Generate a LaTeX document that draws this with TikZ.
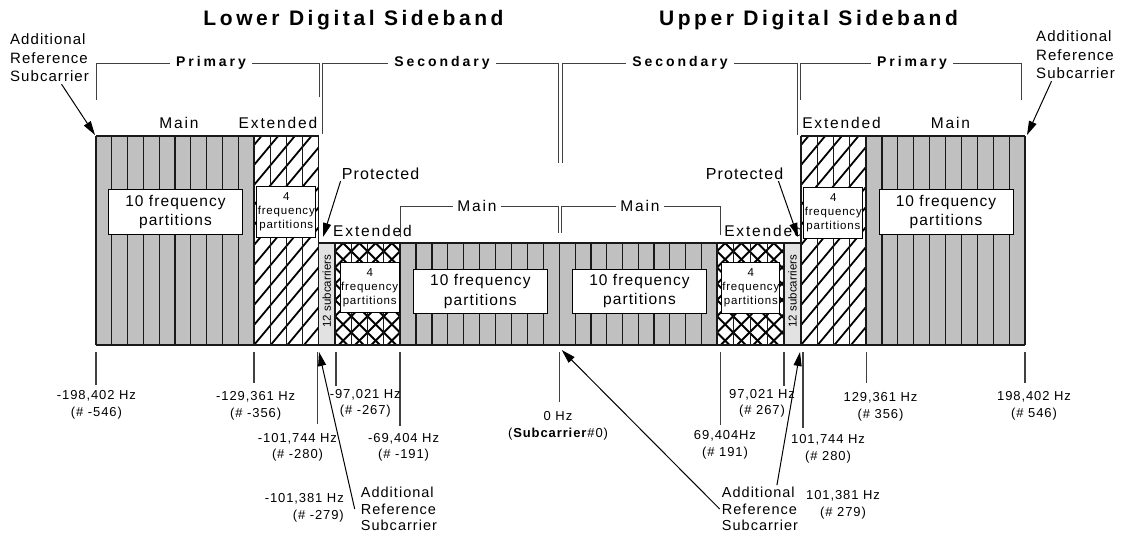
\documentclass[tikz,border=0pt]{standalone}
\usepackage{fontspec}
\setmainfont{Liberation Sans}
\newfontfamily\hdfont[LetterSpace=17]{Liberation Sans}
\newfontfamily\brfont[LetterSpace=21]{Liberation Sans}
\newfontfamily\mdfont[LetterSpace=12]{Liberation Sans}
\newfontfamily\txfont[LetterSpace=7]{Liberation Sans}
\usetikzlibrary{arrows.meta,positioning}
\definecolor{partgray}{RGB}{192,192,192}
\definecolor{protgray}{RGB}{226,226,226}
\tikzset{
  stripe/.style={line width=1.2pt,black!90},
  hatch/.style={line width=1.8pt},
  brack/.style={line width=1pt,black!75},
  tick/.style={line width=1.4pt,black!75},
  arr/.style={line width=1pt,-{Triangle[length=14pt,width=8pt]}},
  bigbox/.style={draw,fill=white,line width=1pt,minimum width=134pt,minimum height=45pt,align=center,inner sep=0pt,font=\txfont\fontsize{15.5}{19.4}\selectfont},
  smallbox/.style={draw,fill=white,line width=1pt,minimum width=59pt,minimum height=51pt,align=center,inner sep=0pt,font=\txfont\fontsize{11.5}{14}\selectfont},
  brlabel/.style={fill=white,inner xsep=6pt,inner ysep=1pt,font=\brfont\bfseries\fontsize{14}{16}\selectfont},
  partlabel/.style={inner sep=1pt,font=\mdfont\fontsize{15.5}{18}\selectfont},
  freq/.style={align=center,inner sep=1pt,font=\txfont\fontsize{13}{16.7}\selectfont},
  note/.style={align=left,inner sep=2pt,font=\txfont\fontsize{15}{18.5}\selectfont},
}
\begin{document}
\begin{tikzpicture}[x=1pt,y=-1pt]
\useasboundingbox (0,0) rectangle (1121,533);
% sidebands
\node[font=\hdfont\bfseries\fontsize{21}{25}\selectfont] (lowsb) at (353.5,20) {Lower Digital Sideband};
\node[font=\hdfont\bfseries\fontsize{21}{25}\selectfont] (uppsb) at (808.5,20) {Upper Digital Sideband};
% primary / secondary brackets
\draw[brack] (96,100) |- (319,63) -- (319,97);
\node[brlabel] (lprim) at (211,63) {Primary};
\draw[brack] (322,134) |- (558,63) -- (558,163);
\node[brlabel] (lsec) at (442,63) {Secondary};
\draw[brack] (562,163) |- (797,63) -- (797,135);
\node[brlabel] (usec) at (680,63) {Secondary};
\draw[brack] (800,100) |- (1021,63) -- (1021,100);
\node[brlabel] (uprim) at (912,63) {Primary};
\draw[brack] (400,237) |- (558,206) -- (558,233);
\node[partlabel,fill=white,inner xsep=4pt] (lsmain) at (477,206) {Main};
\draw[brack] (561,233) |- (720,206) -- (720,235);
\node[partlabel,fill=white,inner xsep=4pt] (usmain) at (640,206) {Main};
% partition labels
\node[partlabel] (lpmain) at (179,123) {Main};
\node[partlabel] (lpext) at (278,123) {Extended};
\node[partlabel] (upext) at (841.5,123) {Extended};
\node[partlabel] (upmain) at (950.5,123) {Main};
\node[partlabel] (lsext) at (372.5,231) {Extended};
\node[partlabel] (usext) at (763.5,231) {Extended};
% main partitions
\foreach \xa/\xb/\ya in {96/254/136,866/1025/136,400/559.5/243,559.5/717/243} {
  \fill[partgray] (\xa,\ya) rectangle (\xb,345);
  \foreach \i in {0,...,10}
    \draw[stripe] ({\xa+\i*(\xb-\xa)/10},\ya) -- ({\xa+\i*(\xb-\xa)/10},345);
  \draw[stripe] (\xa,\ya) -- (\xb,\ya) (\xa,345) -- (\xb,345);
}
% primary extended
\foreach \xa/\xb in {254/318.5,801/866} {
  \begin{scope}
    \clip (\xa,136) rectangle (\xb,345);
    \foreach \k in {0,...,15}
      \draw[hatch] (\xa,{425-\k*20}) -- ++(80,-96);
  \end{scope}
  \foreach \i in {0,...,4}
    \draw[stripe] ({\xa+\i*(\xb-\xa)/4},136) -- ({\xa+\i*(\xb-\xa)/4},345);
  \draw[stripe] (\xa,136) -- (\xb,136) (\xa,345) -- (\xb,345);
}
% secondary extended
\foreach \xa/\xb in {335/400,717/784} {
  \begin{scope}
    \clip (\xa,243) rectangle (\xb,345);
    \foreach \m in {-5,...,12} {
      \draw[hatch] (\xa,{235+\m*16.25}) -- ++(75,-75);
      \draw[hatch] (\xa,{235+\m*16.25}) -- ++(75,75);
    }
  \end{scope}
  \foreach \i in {0,...,4}
    \draw[stripe] ({\xa+\i*(\xb-\xa)/4},243) -- ({\xa+\i*(\xb-\xa)/4},345);
  \draw[stripe] (\xa,243) -- (\xb,243) (\xa,345) -- (\xb,345);
}
% protected
\foreach \xa/\xb in {318.5/335,784/801}
  \draw[stripe,fill=protgray] (\xa,243) rectangle (\xb,345);
\node[rotate=90,font=\fontsize{11.5}{13}\selectfont] (lsub) at (326.75,291) {12 subcarriers};
\node[rotate=90,font=\fontsize{11.5}{13}\selectfont] (usub) at (792.5,291) {12 subcarriers};
% frequency partitions
\node[bigbox] (lpbox) at (175.5,212) {10 frequency\\partitions};
\node[smallbox] (lpxbox) at (286.3,212.2) {4\\frequency\\partitions};
\node[smallbox] (upxbox) at (833.3,212.5) {4\\frequency\\partitions};
\node[bigbox] (upbox) at (946,212) {10 frequency\\partitions};
\node[smallbox,minimum height=50pt] (lsxbox) at (369.7,287.5) {4\\frequency\\partitions};
\node[bigbox,minimum height=44pt] (lsbox) at (480.3,291.3) {10 frequency\\partitions};
\node[bigbox,minimum height=44pt] (usbox) at (639.5,291) {10 frequency\\partitions};
\node[smallbox,minimum width=58pt] (usxbox) at (750.8,287.5) {4\\frequency\\partitions};
% reference subcarriers, protected
\node[note,anchor=west] (addtl) at (8,58) {Additional\\Reference\\Subcarrier};
\node[note,anchor=west] (addtr) at (1034,55) {Additional\\Reference\\Subcarrier};
\coordinate (tiptl) at (95,135);
\coordinate (tiptr) at (1027,135);
\draw[arr] ([xshift=12pt]addtl.south) -- (tiptl);
\draw[arr] ([xshift=-24pt]addtr.south) -- (tiptr);
\node[partlabel,font=\txfont\fontsize{16}{18}\selectfont] (lprot) at (380.5,174) {Protected};
\node[partlabel,font=\txfont\fontsize{16}{18}\selectfont] (uprot) at (744.5,174) {Protected};
\coordinate (tiplp) at (323,237);
\coordinate (tipup) at (798,237);
\draw[arr] (lprot.south west) -- (tiplp);
\draw[arr] ([xshift=-6pt]uprot.south east) -- (tipup);
% ticks
\foreach \x/\yb in {96/385,254/383,317.5/424,336/386,400/426,559.5/402,720.7/425,784/386,803/428,866.7/383,1025/383}
  \draw[tick] (\x,352) -- (\x,\yb);
% frequencies
\node[freq] (fa) at (96.4,405) {-198,402 Hz\\(\# -546)};
\node[freq] (fb) at (255.7,406) {-129,361 Hz\\(\# -356)};
\node[freq] (fc) at (297.5,447.3) {-101,744 Hz\\(\# -280)};
\node[freq] (fd) at (365.3,403.3) {-97,021 Hz\\(\# -267)};
\node[freq] (fe) at (403.6,447.3) {-69,404 Hz\\(\# -191)};
\node[freq,align=right,anchor=east] (ff) at (345,507.7) {-101,381 Hz\\(\# -279)};
\node[freq] (fz) at (558,425.5) {0 Hz\\(\textbf{Subcarrier}\#0)};
\node[freq] (fg) at (725,444.5) {69,404Hz\\(\# 191)};
\node[freq] (fh) at (762,403.3) {97,021 Hz\\(\# 267)};
\node[freq] (fi) at (828,449) {101,744 Hz\\(\# 280)};
\node[freq] (fj) at (843,504.7) {101,381 Hz\\(\# 279)};
\node[freq] (fk) at (880.5,406.5) {129,361 Hz\\(\# 356)};
\node[freq] (fl) at (1034,406) {198,402 Hz\\(\# 546)};
% additional reference subcarriers, bottom
\node[note,anchor=west,font=\txfont\fontsize{14.5}{16.3}\selectfont] (addbl) at (358.7,509) {Additional\\Reference\\Subcarrier};
\node[note,anchor=west,font=\txfont\fontsize{14.5}{16.3}\selectfont] (addbr) at (719.7,509) {Additional\\Reference\\Subcarrier};
\coordinate (tipbl) at (319,352);
\coordinate (tipc) at (561.7,350);
\coordinate (tipbr) at (800,352);
\draw[arr] ([xshift=-4pt]addbl.west) -- (tipbl);
\draw[arr] (addbr.west) -- (tipc);
\draw[arr] ([xshift=17pt]addbr.north) -- (tipbr);
\end{tikzpicture}
\end{document}
